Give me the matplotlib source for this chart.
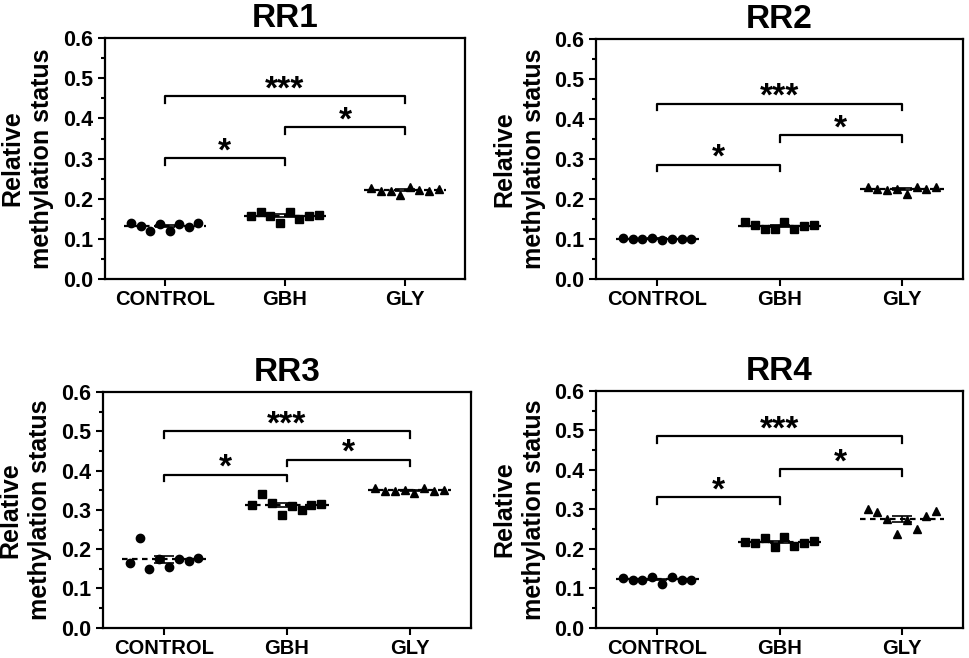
import numpy as np
import matplotlib
matplotlib.use("Agg")
import matplotlib.pyplot as plt
from matplotlib.ticker import MultipleLocator, FormatStrFormatter

plt.rcParams['font.family'] = ['Liberation Sans', 'DejaVu Sans']

groups = ['CONTROL', 'GBH', 'GLY']
titles = ['RR1', 'RR2', 'RR3', 'RR4']

# values (8 per group)
rr1_control = [0.140, 0.131, 0.119, 0.136, 0.119, 0.137, 0.130, 0.140]
rr1_gbh = [0.158, 0.168, 0.158, 0.140, 0.168, 0.150, 0.158, 0.160]
rr1_gly = [0.227, 0.220, 0.220, 0.210, 0.228, 0.221, 0.220, 0.224]

rr2_control = [0.102, 0.101, 0.100, 0.103, 0.098, 0.101, 0.100, 0.101]
rr2_gbh = [0.143, 0.134, 0.124, 0.124, 0.142, 0.125, 0.133, 0.134]
rr2_gly = [0.230, 0.225, 0.223, 0.224, 0.213, 0.229, 0.225, 0.231]

rr3_control = [0.165, 0.228, 0.150, 0.175, 0.155, 0.175, 0.170, 0.178]
rr3_gbh = [0.312, 0.341, 0.318, 0.288, 0.310, 0.300, 0.313, 0.316]
rr3_gly = [0.357, 0.349, 0.348, 0.350, 0.342, 0.356, 0.349, 0.352]

rr4_control = [0.126, 0.121, 0.122, 0.129, 0.111, 0.128, 0.120, 0.122]
rr4_gbh = [0.218, 0.215, 0.228, 0.205, 0.229, 0.208, 0.215, 0.220]
rr4_gly = [0.301, 0.292, 0.276, 0.238, 0.274, 0.249, 0.282, 0.295]

# significance brackets: (group a, group b, height, label)
rr1_sig = [(0, 1, 0.301, '*'), (1, 2, 0.378, '*'), (0, 2, 0.455, '***')]
rr2_sig = [(0, 1, 0.286, '*'), (1, 2, 0.359, '*'), (0, 2, 0.438, '***')]
rr3_sig = [(0, 1, 0.390, '*'), (1, 2, 0.428, '*'), (0, 2, 0.500, '***')]
rr4_sig = [(0, 1, 0.331, '*'), (1, 2, 0.402, '*'), (0, 2, 0.485, '***')]

panels = [
    (rr1_control, rr1_gbh, rr1_gly, rr1_sig),
    (rr2_control, rr2_gbh, rr2_gly, rr2_sig),
    (rr3_control, rr3_gbh, rr3_gly, rr3_sig),
    (rr4_control, rr4_gbh, rr4_gly, rr4_sig),
]

# axes rectangles in figure fraction
rects = [
    [0.108, 0.576, 0.372, 0.366],
    [0.615, 0.576, 0.379, 0.365],
    [0.106, 0.046, 0.380, 0.358],
    [0.615, 0.046, 0.379, 0.360],
]

markers = ['o', 's', '^']

fig = plt.figure(figsize=(9.69, 6.58), dpi=100)

for title, (c, g, l, sig), rect in zip(titles, panels, rects):
    ax = fig.add_axes(rect)
    for i, vals in enumerate([c, g, l]):
        vals = np.array(vals)
        xs = i + np.linspace(-0.28, 0.28, len(vals))
        ax.plot(xs, vals, linestyle='none', marker=markers[i], color='black',
                markersize=6, zorder=3)
        m = vals.mean()
        sem = vals.std(ddof=1) / np.sqrt(len(vals))
        ax.errorbar([i], [m], yerr=[sem], color='black', capsize=7,
                    elinewidth=1.2, capthick=1.2, zorder=4, fmt='none')
        ax.plot([i - 0.34, i + 0.34], [m, m], color='black', linestyle=(0, (2.5, 2)),
                linewidth=1.6, zorder=5)

    for a, b, h, lab in sig:
        leg = 0.017
        ax.plot([a, a, b, b], [h - leg, h, h, h - leg], color='black',
                linewidth=1.6, zorder=2)
        ax.text((a + b) / 2, h + 0.016, lab, ha='center', va='center',
                fontsize=24, fontweight='bold', color='black')

    ax.set_xlim(-0.5, 2.5)
    ax.set_ylim(0, 0.6)
    ax.set_xticks(range(3))
    ax.set_xticklabels(groups, fontsize=14.5, fontweight='bold')
    ax.yaxis.set_major_locator(MultipleLocator(0.1))
    ax.yaxis.set_minor_locator(MultipleLocator(0.05))
    ax.yaxis.set_major_formatter(FormatStrFormatter('%.1f'))
    for t in ax.get_yticklabels():
        t.set_fontweight('bold')
        t.set_fontsize(15.5)
    ax.tick_params(axis='both', which='major', length=5, width=1.5, direction='out')
    ax.tick_params(axis='x', pad=3)
    ax.tick_params(axis='y', which='minor', length=3, width=1.5, direction='out')
    for s in ax.spines.values():
        s.set_linewidth(1.6)
    ax.set_ylabel('Relative\nmethylation status', fontsize=18, fontweight='bold',
                  linespacing=1.3, labelpad=6)
    ax.set_title(title, fontsize=24, fontweight='bold', pad=8)

fig.savefig('out.png', dpi=100)
